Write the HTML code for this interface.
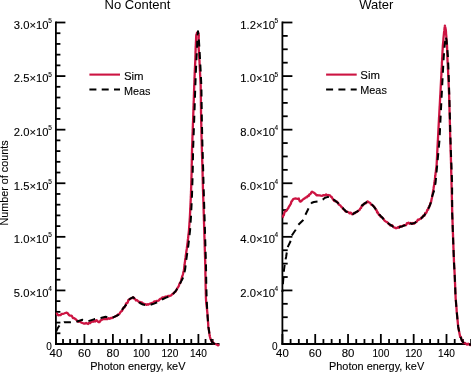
<!DOCTYPE html>
<html><head><meta charset="utf-8"><style>
html,body{margin:0;padding:0;background:#fff;}
body{width:471px;height:372px;overflow:hidden;}
svg{display:block;will-change:transform;}
text{font-family:"Liberation Sans", sans-serif;fill:#000;}
.s{stroke:#000;stroke-width:0.1px;}
</style></head><body>
<svg width="471" height="372" viewBox="0 0 471 372">
<rect width="471" height="372" fill="#fff"/>
<g stroke="#000" stroke-width="1.8" fill="none" stroke-linecap="butt">
<line x1="55.9" y1="21.6" x2="55.9" y2="344.9" />
<line x1="55.0" y1="344.0" x2="219.5" y2="344.0" />
<line x1="55.90" y1="344.0" x2="55.90" y2="334.0" />
<line x1="63.02" y1="344.0" x2="63.02" y2="339.0" />
<line x1="70.15" y1="344.0" x2="70.15" y2="339.0" />
<line x1="77.28" y1="344.0" x2="77.28" y2="339.0" />
<line x1="84.40" y1="344.0" x2="84.40" y2="334.0" />
<line x1="91.53" y1="344.0" x2="91.53" y2="339.0" />
<line x1="98.65" y1="344.0" x2="98.65" y2="339.0" />
<line x1="105.78" y1="344.0" x2="105.78" y2="339.0" />
<line x1="112.90" y1="344.0" x2="112.90" y2="334.0" />
<line x1="120.03" y1="344.0" x2="120.03" y2="339.0" />
<line x1="127.15" y1="344.0" x2="127.15" y2="339.0" />
<line x1="134.28" y1="344.0" x2="134.28" y2="339.0" />
<line x1="141.40" y1="344.0" x2="141.40" y2="334.0" />
<line x1="148.53" y1="344.0" x2="148.53" y2="339.0" />
<line x1="155.65" y1="344.0" x2="155.65" y2="339.0" />
<line x1="162.78" y1="344.0" x2="162.78" y2="339.0" />
<line x1="169.90" y1="344.0" x2="169.90" y2="334.0" />
<line x1="177.03" y1="344.0" x2="177.03" y2="339.0" />
<line x1="184.15" y1="344.0" x2="184.15" y2="339.0" />
<line x1="191.28" y1="344.0" x2="191.28" y2="339.0" />
<line x1="198.40" y1="344.0" x2="198.40" y2="334.0" />
<line x1="205.53" y1="344.0" x2="205.53" y2="339.0" />
<line x1="212.65" y1="344.0" x2="212.65" y2="339.0" />
<line x1="55.9" y1="344.00" x2="65.4" y2="344.00" />
<line x1="55.9" y1="333.28" x2="60.4" y2="333.28" />
<line x1="55.9" y1="322.57" x2="60.4" y2="322.57" />
<line x1="55.9" y1="311.85" x2="60.4" y2="311.85" />
<line x1="55.9" y1="301.13" x2="60.4" y2="301.13" />
<line x1="55.9" y1="290.42" x2="65.4" y2="290.42" />
<line x1="55.9" y1="279.70" x2="60.4" y2="279.70" />
<line x1="55.9" y1="268.98" x2="60.4" y2="268.98" />
<line x1="55.9" y1="258.27" x2="60.4" y2="258.27" />
<line x1="55.9" y1="247.55" x2="60.4" y2="247.55" />
<line x1="55.9" y1="236.83" x2="65.4" y2="236.83" />
<line x1="55.9" y1="226.12" x2="60.4" y2="226.12" />
<line x1="55.9" y1="215.40" x2="60.4" y2="215.40" />
<line x1="55.9" y1="204.68" x2="60.4" y2="204.68" />
<line x1="55.9" y1="193.97" x2="60.4" y2="193.97" />
<line x1="55.9" y1="183.25" x2="65.4" y2="183.25" />
<line x1="55.9" y1="172.53" x2="60.4" y2="172.53" />
<line x1="55.9" y1="161.82" x2="60.4" y2="161.82" />
<line x1="55.9" y1="151.10" x2="60.4" y2="151.10" />
<line x1="55.9" y1="140.38" x2="60.4" y2="140.38" />
<line x1="55.9" y1="129.67" x2="65.4" y2="129.67" />
<line x1="55.9" y1="118.95" x2="60.4" y2="118.95" />
<line x1="55.9" y1="108.23" x2="60.4" y2="108.23" />
<line x1="55.9" y1="97.52" x2="60.4" y2="97.52" />
<line x1="55.9" y1="86.80" x2="60.4" y2="86.80" />
<line x1="55.9" y1="76.08" x2="65.4" y2="76.08" />
<line x1="55.9" y1="65.37" x2="60.4" y2="65.37" />
<line x1="55.9" y1="54.65" x2="60.4" y2="54.65" />
<line x1="55.9" y1="43.93" x2="60.4" y2="43.93" />
<line x1="55.9" y1="33.22" x2="60.4" y2="33.22" />
<line x1="55.9" y1="22.50" x2="65.4" y2="22.50" />
<line x1="282.4" y1="21.6" x2="282.4" y2="344.9" />
<line x1="281.5" y1="344.0" x2="471.5" y2="344.0" />
<line x1="282.40" y1="344.0" x2="282.40" y2="334.0" />
<line x1="290.60" y1="344.0" x2="290.60" y2="339.0" />
<line x1="298.81" y1="344.0" x2="298.81" y2="339.0" />
<line x1="307.01" y1="344.0" x2="307.01" y2="339.0" />
<line x1="315.22" y1="344.0" x2="315.22" y2="334.0" />
<line x1="323.42" y1="344.0" x2="323.42" y2="339.0" />
<line x1="331.63" y1="344.0" x2="331.63" y2="339.0" />
<line x1="339.83" y1="344.0" x2="339.83" y2="339.0" />
<line x1="348.04" y1="344.0" x2="348.04" y2="334.0" />
<line x1="356.25" y1="344.0" x2="356.25" y2="339.0" />
<line x1="364.45" y1="344.0" x2="364.45" y2="339.0" />
<line x1="372.65" y1="344.0" x2="372.65" y2="339.0" />
<line x1="380.86" y1="344.0" x2="380.86" y2="334.0" />
<line x1="389.06" y1="344.0" x2="389.06" y2="339.0" />
<line x1="397.27" y1="344.0" x2="397.27" y2="339.0" />
<line x1="405.47" y1="344.0" x2="405.47" y2="339.0" />
<line x1="413.68" y1="344.0" x2="413.68" y2="334.0" />
<line x1="421.88" y1="344.0" x2="421.88" y2="339.0" />
<line x1="430.09" y1="344.0" x2="430.09" y2="339.0" />
<line x1="438.29" y1="344.0" x2="438.29" y2="339.0" />
<line x1="446.50" y1="344.0" x2="446.50" y2="334.0" />
<line x1="454.70" y1="344.0" x2="454.70" y2="339.0" />
<line x1="462.91" y1="344.0" x2="462.91" y2="339.0" />
<line x1="471.12" y1="344.0" x2="471.12" y2="339.0" />
<line x1="282.4" y1="344.00" x2="292.4" y2="344.00" />
<line x1="282.4" y1="330.60" x2="287.7" y2="330.60" />
<line x1="282.4" y1="317.21" x2="287.7" y2="317.21" />
<line x1="282.4" y1="303.81" x2="287.7" y2="303.81" />
<line x1="282.4" y1="290.42" x2="292.4" y2="290.42" />
<line x1="282.4" y1="277.02" x2="287.7" y2="277.02" />
<line x1="282.4" y1="263.62" x2="287.7" y2="263.62" />
<line x1="282.4" y1="250.23" x2="287.7" y2="250.23" />
<line x1="282.4" y1="236.83" x2="292.4" y2="236.83" />
<line x1="282.4" y1="223.44" x2="287.7" y2="223.44" />
<line x1="282.4" y1="210.04" x2="287.7" y2="210.04" />
<line x1="282.4" y1="196.65" x2="287.7" y2="196.65" />
<line x1="282.4" y1="183.25" x2="292.4" y2="183.25" />
<line x1="282.4" y1="169.85" x2="287.7" y2="169.85" />
<line x1="282.4" y1="156.46" x2="287.7" y2="156.46" />
<line x1="282.4" y1="143.06" x2="287.7" y2="143.06" />
<line x1="282.4" y1="129.67" x2="292.4" y2="129.67" />
<line x1="282.4" y1="116.27" x2="287.7" y2="116.27" />
<line x1="282.4" y1="102.88" x2="287.7" y2="102.88" />
<line x1="282.4" y1="89.48" x2="287.7" y2="89.48" />
<line x1="282.4" y1="76.08" x2="292.4" y2="76.08" />
<line x1="282.4" y1="62.69" x2="287.7" y2="62.69" />
<line x1="282.4" y1="49.29" x2="287.7" y2="49.29" />
<line x1="282.4" y1="35.90" x2="287.7" y2="35.90" />
<line x1="282.4" y1="22.50" x2="292.4" y2="22.50" />
</g>
<polyline points="55.9,313.9 57.0,313.6 58.2,315.3 59.3,315.1 60.5,315.2 61.7,313.9 62.9,313.9 64.1,313.5 65.3,313.0 66.5,312.7 67.5,313.0 68.4,314.2 69.2,315.3 70.1,315.7 71.0,315.6 71.9,316.1 72.9,318.1 73.8,318.1 75.0,318.8 76.0,319.5 77.0,320.5 78.0,321.6 79.0,321.8 80.0,321.3 81.1,322.5 82.1,322.8 83.1,323.2 84.1,323.7 85.1,323.5 86.1,323.0 87.1,323.5 88.1,324.0 89.1,322.8 90.1,323.2 91.1,322.1 92.2,321.1 93.2,321.8 94.2,320.8 95.2,321.5 96.5,320.1 97.5,321.2 98.5,322.1 99.5,322.1 100.6,320.5 101.5,319.8 102.4,319.6 103.6,318.9 104.8,319.2 106.0,319.1 107.3,319.2 108.5,318.2 109.7,318.8 110.9,317.9 112.1,318.0 113.3,317.3 114.5,316.8 115.7,316.2 116.9,315.6 118.2,314.3 119.4,314.0 120.2,312.5 121.0,311.6 121.8,311.1 122.4,310.1 123.0,308.9 123.6,307.5 124.2,307.5 124.7,307.2 125.2,305.8 125.6,305.1 126.1,303.4 126.6,303.1 127.2,303.2 127.8,302.1 128.4,299.9 129.0,299.8 130.2,298.7 131.3,298.2 132.2,298.1 133.2,297.2 134.1,298.5 135.1,299.1 136.0,300.5 137.0,300.2 137.9,301.0 138.9,302.0 140.0,301.8 140.9,302.6 141.8,302.4 142.7,303.2 144.1,303.9 145.4,304.2 146.4,304.9 147.4,304.2 148.4,304.6 149.4,303.8 150.4,303.5 151.4,303.2 152.4,303.0 153.4,302.5 154.4,301.3 155.5,301.8 156.5,300.8 157.5,300.8 158.5,300.7 159.5,299.5 160.5,298.8 161.5,298.4 162.5,297.3 163.5,297.4 164.6,297.1 165.6,296.6 167.0,296.6 168.4,295.9 169.7,296.0 171.0,295.5 171.9,294.5 172.7,293.9 173.6,293.3 174.5,292.3 175.3,291.8 176.2,290.3 176.9,289.2 177.6,287.8 178.3,286.9 178.9,285.8 179.4,283.9 179.9,282.9 180.5,282.6 180.8,281.5 181.1,280.5 181.4,279.4 181.7,278.3 182.0,277.2 182.3,276.1 182.7,275.1 183.0,274.0 183.2,273.0 183.4,272.0 183.7,271.0 183.9,270.0 184.1,269.0 184.2,267.9 184.3,266.9 184.4,265.9 184.6,264.8 184.7,263.8 184.8,262.7 185.0,261.6 185.1,260.6 185.2,259.5 185.4,258.4 185.6,257.4 185.7,256.3 185.8,255.3 186.0,254.2 186.2,253.1 186.3,252.1 186.4,251.1 186.6,250.0 186.8,248.9 186.9,247.9 187.0,246.9 187.2,245.8 187.3,244.7 187.4,243.7 187.6,242.6 187.7,241.6 187.8,240.5 187.9,239.4 188.1,238.4 188.2,237.3 188.3,236.3 188.4,235.2 188.5,234.2 188.7,233.1 188.8,232.1 188.9,231.0 189.0,230.0 189.1,228.9 189.1,227.9 189.2,226.8 189.3,225.7 189.4,224.6 189.4,223.6 189.5,222.5 189.6,221.4 189.7,220.3 189.7,219.3 189.8,218.2 189.9,217.2 189.9,216.1 190.0,215.1 190.0,214.1 190.1,213.0 190.1,212.0 190.2,211.0 190.2,209.9 190.2,208.9 190.3,207.9 190.4,206.8 190.4,205.8 190.5,204.8 190.5,203.8 190.6,202.7 190.6,201.7 190.7,200.7 190.7,199.6 190.8,198.6 190.8,197.6 190.8,196.5 190.9,195.5 190.9,194.5 191.0,193.4 191.0,192.4 191.0,191.4 191.1,190.3 191.1,189.3 191.1,188.2 191.2,187.2 191.2,186.2 191.2,185.1 191.2,184.1 191.3,183.1 191.3,182.0 191.3,181.0 191.4,180.0 191.4,178.9 191.4,177.9 191.5,176.8 191.5,175.8 191.5,174.8 191.6,173.7 191.6,172.7 191.6,171.7 191.6,170.6 191.7,169.6 191.7,168.6 191.7,167.5 191.7,166.5 191.7,165.5 191.7,164.4 191.8,163.4 191.8,162.4 191.8,161.3 191.8,160.3 191.8,159.3 191.9,158.3 191.9,157.2 191.9,156.2 191.9,155.2 191.9,154.1 191.9,153.1 192.0,152.1 192.0,151.0 192.0,150.0 192.0,149.0 192.1,148.0 192.1,147.0 192.1,146.0 192.2,145.0 192.2,144.0 192.3,143.0 192.3,142.0 192.3,141.0 192.4,140.0 192.4,139.0 192.4,138.0 192.5,137.0 192.5,136.0 192.5,135.0 192.6,134.0 192.6,132.9 192.7,131.9 192.7,130.9 192.7,129.9 192.8,128.9 192.8,127.9 192.8,126.9 192.9,125.9 192.9,124.9 192.9,123.9 193.0,122.9 193.0,121.9 193.1,120.9 193.1,119.9 193.1,118.9 193.2,117.9 193.2,116.9 193.2,115.9 193.3,114.8 193.3,113.8 193.3,112.8 193.4,111.7 193.4,110.7 193.4,109.7 193.5,108.6 193.5,107.6 193.5,106.6 193.6,105.5 193.6,104.5 193.6,103.5 193.7,102.4 193.7,101.4 193.8,100.3 193.8,99.3 193.8,98.3 193.9,97.2 193.9,96.2 193.9,95.2 194.0,94.1 194.0,93.1 194.0,92.1 194.1,91.0 194.1,90.0 194.1,89.0 194.2,88.0 194.2,86.9 194.2,85.9 194.3,84.9 194.3,83.8 194.4,82.8 194.4,81.8 194.4,80.8 194.5,79.8 194.5,78.7 194.5,77.7 194.6,76.7 194.6,75.6 194.7,74.6 194.7,73.6 194.7,72.6 194.8,71.5 194.8,70.5 194.9,69.5 194.9,68.4 195.0,67.4 195.0,66.4 195.1,65.4 195.1,64.3 195.2,63.3 195.2,62.3 195.3,61.2 195.3,60.2 195.3,59.2 195.4,58.1 195.4,57.1 195.4,56.0 195.5,55.0 195.5,54.0 195.5,52.9 195.5,51.9 195.6,50.9 195.6,49.8 195.6,48.8 195.7,47.7 195.7,46.7 195.8,45.6 195.8,44.6 195.9,43.5 195.9,42.4 196.0,41.4 196.0,40.3 196.1,39.3 196.1,38.2 196.2,37.1 196.2,36.1 196.3,35.0 196.7,33.9 197.0,32.7 198.2,32.7 198.5,33.9 198.8,35.0 198.8,36.0 198.7,37.0 198.7,38.1 198.7,39.1 198.7,40.1 198.6,41.1 198.6,42.1 198.6,43.2 198.5,44.2 198.5,45.2 198.6,46.2 198.6,47.2 198.7,48.2 198.7,49.2 198.8,50.2 198.9,51.2 198.9,52.2 199.0,53.2 199.0,54.2 199.1,55.2 199.2,56.2 199.2,57.2 199.3,58.2 199.3,59.2 199.4,60.2 199.5,61.2 199.5,62.3 199.6,63.3 199.6,64.3 199.7,65.4 199.7,66.4 199.8,67.4 199.8,68.4 199.9,69.5 199.9,70.5 200.0,71.5 200.0,72.6 200.1,73.6 200.1,74.6 200.2,75.7 200.2,76.7 200.3,77.7 200.3,78.8 200.4,79.8 200.4,80.8 200.5,81.8 200.5,82.9 200.6,83.9 200.6,84.9 200.7,86.0 200.7,87.0 200.7,88.0 200.7,89.1 200.7,90.1 200.8,91.1 200.8,92.2 200.8,93.2 200.8,94.2 200.8,95.2 200.8,96.3 200.8,97.3 200.9,98.3 200.9,99.4 200.9,100.4 200.9,101.4 200.9,102.5 200.9,103.5 200.9,104.5 200.9,105.6 201.0,106.6 201.0,107.6 201.0,108.7 201.0,109.7 201.0,110.7 201.0,111.7 201.0,112.8 201.1,113.8 201.1,114.8 201.1,115.9 201.1,116.9 201.1,117.9 201.1,119.0 201.2,120.0 201.2,121.0 201.2,122.1 201.2,123.1 201.3,124.1 201.3,125.2 201.3,126.2 201.3,127.2 201.4,128.3 201.4,129.3 201.4,130.4 201.4,131.4 201.4,132.4 201.5,133.5 201.5,134.5 201.5,135.5 201.5,136.6 201.6,137.6 201.6,138.6 201.6,139.7 201.6,140.7 201.7,141.7 201.7,142.8 201.7,143.8 201.7,144.8 201.8,145.9 201.8,146.9 201.8,147.9 201.9,149.0 201.9,150.0 201.9,151.0 201.9,152.0 202.0,153.1 202.0,154.1 202.0,155.1 202.1,156.2 202.1,157.2 202.1,158.2 202.2,159.3 202.2,160.3 202.2,161.3 202.3,162.4 202.3,163.4 202.3,164.4 202.3,165.4 202.4,166.5 202.4,167.5 202.4,168.5 202.5,169.6 202.5,170.6 202.5,171.6 202.6,172.6 202.6,173.7 202.6,174.7 202.6,175.7 202.7,176.7 202.7,177.7 202.7,178.8 202.7,179.8 202.8,180.8 202.8,181.8 202.8,182.9 202.8,183.9 202.9,184.9 202.9,185.9 202.9,186.9 202.9,188.0 203.0,189.0 203.0,190.0 203.0,191.0 203.1,192.1 203.1,193.1 203.1,194.2 203.2,195.2 203.2,196.3 203.2,197.3 203.3,198.3 203.3,199.4 203.3,200.4 203.4,201.5 203.4,202.5 203.4,203.6 203.5,204.6 203.5,205.6 203.5,206.7 203.6,207.7 203.6,208.8 203.6,209.8 203.7,210.9 203.7,211.9 203.7,212.9 203.8,214.0 203.8,215.0 203.8,216.0 203.9,217.1 203.9,218.1 203.9,219.1 203.9,220.2 204.0,221.2 204.0,222.2 204.0,223.3 204.1,224.3 204.1,225.4 204.1,226.4 204.2,227.4 204.2,228.5 204.2,229.5 204.3,230.5 204.3,231.6 204.3,232.6 204.3,233.6 204.4,234.7 204.4,235.7 204.4,236.7 204.5,237.8 204.5,238.8 204.5,239.8 204.6,240.8 204.6,241.8 204.6,242.8 204.6,243.8 204.7,244.8 204.7,245.8 204.7,246.8 204.8,247.8 204.8,248.8 204.8,249.8 204.9,250.8 204.9,251.8 204.9,252.8 204.9,253.8 205.0,254.8 205.0,255.8 205.0,256.8 205.1,257.8 205.1,258.8 205.1,259.8 205.2,260.8 205.2,261.8 205.2,262.8 205.2,263.8 205.3,264.8 205.3,265.8 205.3,266.8 205.3,267.8 205.3,268.8 205.4,269.8 205.4,270.9 205.4,271.9 205.4,272.9 205.4,273.9 205.4,274.9 205.5,275.9 205.5,276.9 205.5,277.9 205.5,278.9 205.5,279.9 205.5,281.0 205.6,282.0 205.6,283.0 205.6,284.0 205.6,285.0 205.6,286.0 205.7,287.0 205.7,288.0 205.7,289.0 205.7,290.0 205.8,291.0 205.8,292.0 205.8,293.0 205.8,294.0 205.9,295.0 205.9,296.0 205.9,297.0 205.9,298.0 206.0,299.0 206.0,300.0 206.1,301.0 206.2,302.1 206.3,303.1 206.4,304.1 206.5,305.2 206.6,306.2 206.8,307.2 206.9,308.2 207.0,309.3 207.1,310.3 207.2,311.3 207.3,312.4 207.4,313.4 207.5,314.4 207.6,315.5 207.6,316.5 207.7,317.6 207.8,318.6 207.9,319.6 207.9,320.7 208.0,321.7 208.1,322.7 208.2,323.8 208.2,324.8 208.3,325.9 208.4,326.9 208.6,327.9 208.7,329.0 208.9,330.0 209.0,331.1 209.2,332.1 209.3,333.2 209.5,334.2 209.6,335.3 209.8,336.3 210.2,337.7 210.6,339.3 211.0,339.7 211.4,340.4 211.8,341.7 212.8,342.0 213.8,343.5 215.2,344.0 216.5,344.4 217.9,345.4 219.3,344.6" fill="none" stroke="#cc1442" stroke-width="2.3" stroke-linejoin="round"/>
<polyline points="55.9,332.0 57.5,328.5 59.6,325.2 62.0,323.2 64.3,322.2 70.8,322.2 76.3,321.8 82.4,319.8 85.0,320.5 88.4,321.1 94.5,319.1 100.8,318.0 105.6,316.8 109.0,317.6 112.1,318.0 118.5,314.8 121.8,309.9 126.6,304.3 129.0,299.5 131.3,298.2 133.2,297.2 135.1,299.1 137.5,301.3 140.0,303.0 143.0,304.6 146.0,305.2 150.0,304.9 154.0,303.6 158.0,301.9 162.0,299.5 166.0,297.6 169.0,296.6 171.5,295.8 173.6,293.3 176.2,290.3 178.3,286.9 180.5,282.6 182.8,278.3 184.1,274.0 185.2,269.0 185.9,262.7 187.1,254.2 188.3,245.8 189.3,237.3 190.1,230.0 190.9,218.2 192.0,195.5 192.7,172.7 193.1,150.0 194.3,116.9 195.2,90.0 195.8,73.6 196.4,60.2 197.1,46.7 197.4,36.0 198.0,31.2 198.6,36.0 199.3,46.0 200.1,60.2 200.8,73.6 201.4,87.0 201.8,116.9 202.4,143.8 203.2,170.6 203.7,190.0 204.4,211.9 205.2,238.8 206.0,265.8 206.3,285.0 206.7,300.0 207.4,313.4 208.4,326.9 209.8,336.3 211.8,341.7 213.8,343.5 216.5,344.4 219.3,344.6" fill="none" stroke="#000" stroke-width="2" stroke-dasharray="7 5.5" stroke-dashoffset="12.0" stroke-linejoin="round"/>
<polyline points="282.4,217.5 282.8,217.3 283.2,215.4 283.8,215.2 284.4,212.6 284.9,211.6 285.5,211.3 286.3,211.0 287.0,209.9 287.8,208.6 288.4,208.0 289.0,206.4 289.5,206.0 290.1,204.9 290.6,204.2 291.0,203.2 291.4,201.6 291.9,201.3 292.6,200.0 293.3,199.0 294.6,198.6 296.0,198.5 297.4,198.9 298.8,198.5 299.4,200.5 300.0,201.4 300.6,201.7 301.5,200.9 302.4,199.9 304.0,198.8 304.9,198.2 305.8,197.4 306.7,197.4 307.7,195.9 308.7,196.1 309.4,194.3 310.1,194.2 310.8,193.4 311.5,192.2 312.1,191.7 313.4,192.4 314.4,193.0 315.5,194.1 316.5,195.3 317.5,195.1 318.5,195.3 319.5,195.4 320.9,195.7 322.2,195.8 323.5,195.1 324.9,195.4 326.1,194.5 327.4,195.3 328.6,195.0 329.8,195.3 331.0,196.9 331.7,197.0 332.4,198.5 333.1,199.3 334.3,201.0 335.5,200.9 336.3,201.9 337.1,201.7 337.9,202.9 338.7,204.4 339.5,205.0 340.3,205.3 341.3,206.8 342.3,207.4 343.0,208.9 343.7,209.5 344.4,209.8 345.4,211.3 346.4,211.8 347.4,211.7 348.4,212.2 349.6,213.3 350.8,212.6 351.8,214.2 352.8,214.2 353.9,212.9 354.9,213.3 356.0,212.1 357.1,211.8 358.3,210.7 359.4,210.1 359.9,209.2 360.5,208.2 361.0,208.0 361.6,206.3 362.1,205.4 363.0,205.3 363.9,203.8 364.8,203.4 365.7,203.4 366.5,202.8 367.4,201.4 368.3,201.8 369.2,202.5 370.1,202.8 371.0,204.4 371.9,204.9 372.8,205.4 373.5,206.2 374.1,206.6 374.8,207.6 375.5,208.8 376.0,210.1 376.6,210.1 377.1,212.4 377.7,212.1 378.2,213.5 379.0,215.0 379.8,214.8 380.6,216.7 381.4,217.1 382.2,217.5 382.9,218.3 383.6,219.1 384.2,220.2 384.9,220.9 385.6,221.5 386.5,221.8 387.3,222.2 388.1,223.3 389.0,223.9 390.0,225.4 391.1,225.5 392.1,225.2 393.1,226.6 394.1,227.5 395.1,227.7 396.1,228.3 397.1,227.9 398.1,227.0 399.1,227.7 400.1,226.1 401.1,226.6 402.1,226.5 403.1,225.5 404.2,225.1 405.2,225.2 406.0,225.2 406.9,223.2 407.7,223.3 408.5,222.6 409.6,223.7 410.8,223.0 411.9,223.9 413.0,222.9 414.1,223.7 415.2,222.6 416.1,221.8 416.9,221.6 417.8,219.7 418.6,219.9 419.8,219.0 420.9,218.6 421.6,217.3 422.4,217.5 423.1,215.7 423.8,215.8 424.5,215.6 425.2,213.0 426.0,213.3 426.7,211.9 427.2,210.1 427.7,209.5 428.1,209.6 428.6,207.4 429.1,207.1 429.5,205.6 429.9,205.6 430.2,204.1 430.6,202.5 431.0,202.4 431.2,201.3 431.4,200.2 431.6,199.1 431.9,198.0 432.1,196.9 432.3,195.8 432.5,194.6 432.7,193.5 432.9,192.3 433.1,191.2 433.3,190.0 433.5,188.9 433.6,187.9 433.8,186.8 434.0,185.7 434.2,184.6 434.3,183.6 434.5,182.5 434.6,181.5 434.7,180.4 434.9,179.4 435.0,178.4 435.1,177.4 435.2,176.3 435.4,175.3 435.5,174.3 435.6,173.2 435.7,172.2 435.9,171.2 436.0,170.1 436.1,169.1 436.2,168.1 436.4,167.1 436.5,166.0 436.6,165.0 436.7,164.0 436.7,163.0 436.8,162.0 436.8,161.0 436.9,160.0 436.9,159.0 437.0,158.0 437.0,157.0 437.1,156.0 437.1,155.0 437.2,154.0 437.2,153.0 437.3,152.0 437.3,151.0 437.4,150.0 437.4,149.0 437.5,148.0 437.5,147.0 437.6,146.0 437.6,145.0 437.7,144.0 437.7,143.0 437.8,142.0 437.8,141.0 437.9,140.0 438.0,139.0 438.0,138.0 438.1,137.0 438.1,136.0 438.2,135.0 438.2,134.0 438.3,133.0 438.3,132.0 438.4,131.0 438.4,130.0 438.5,129.0 438.5,128.0 438.6,127.0 438.6,126.0 438.7,125.0 438.7,124.0 438.8,123.0 438.8,122.0 438.9,121.0 438.9,120.0 439.0,119.0 439.0,118.0 439.1,117.0 439.2,116.0 439.2,115.0 439.3,114.0 439.3,113.0 439.4,112.0 439.4,111.0 439.5,110.0 439.5,109.0 439.6,108.0 439.6,107.0 439.7,106.0 439.8,105.0 439.8,104.0 439.9,103.0 439.9,102.0 440.0,101.0 440.0,100.0 440.1,99.0 440.1,98.0 440.2,97.0 440.2,96.0 440.3,95.0 440.4,94.0 440.4,93.0 440.5,92.0 440.5,91.0 440.6,90.0 440.6,89.0 440.7,88.0 440.7,87.0 440.8,86.0 440.8,85.0 440.9,84.0 440.9,83.0 441.0,82.0 441.0,81.0 441.1,80.0 441.1,79.0 441.2,78.0 441.2,77.0 441.3,76.0 441.4,75.0 441.4,73.9 441.4,72.9 441.5,71.9 441.6,70.9 441.6,69.8 441.6,68.8 441.7,67.8 441.8,66.8 441.8,65.7 441.9,64.7 441.9,63.7 441.9,62.6 442.0,61.6 442.1,60.6 442.1,59.6 442.1,58.5 442.2,57.5 442.3,56.5 442.3,55.4 442.4,54.4 442.4,53.3 442.5,52.3 442.5,51.2 442.6,50.2 442.7,49.2 442.7,48.1 442.8,47.1 442.8,46.0 442.9,45.0 443.0,44.0 443.1,43.0 443.2,42.0 443.3,41.0 443.4,40.0 443.4,39.0 443.5,38.0 443.6,37.0 443.7,36.0 443.8,35.0 443.9,34.0 444.0,33.0 444.1,31.9 444.3,30.9 444.4,29.8 444.5,28.8 444.6,27.7 444.8,26.7 444.9,25.6 445.1,26.7 445.4,27.8 445.6,28.9 445.8,30.0 445.9,31.0 446.0,32.0 446.0,33.0 446.1,34.0 446.2,35.0 446.3,36.0 446.4,37.0 446.4,38.0 446.5,39.0 446.6,40.0 446.7,41.0 446.8,42.0 446.8,43.0 446.9,44.0 447.0,45.0 447.0,46.0 447.1,47.1 447.1,48.1 447.1,49.2 447.2,50.2 447.2,51.2 447.2,52.3 447.3,53.3 447.3,54.4 447.3,55.4 447.4,56.5 447.4,57.5 447.4,58.5 447.5,59.6 447.5,60.6 447.6,61.6 447.6,62.6 447.7,63.7 447.8,64.7 447.8,65.7 447.9,66.8 447.9,67.8 447.9,68.8 448.0,69.8 448.1,70.9 448.1,71.9 448.1,72.9 448.2,73.9 448.2,75.0 448.3,76.0 448.3,77.0 448.4,78.0 448.4,79.0 448.5,80.0 448.5,81.0 448.6,82.0 448.6,83.0 448.6,84.0 448.7,85.0 448.7,86.0 448.8,87.0 448.8,88.0 448.8,89.0 448.9,90.0 448.9,91.0 449.0,92.0 449.0,93.0 449.1,94.0 449.1,95.0 449.1,96.0 449.2,97.0 449.2,98.0 449.2,99.0 449.2,100.0 449.3,101.0 449.3,102.0 449.3,103.0 449.3,104.0 449.4,105.0 449.4,106.0 449.4,107.0 449.5,108.0 449.5,109.0 449.5,110.0 449.5,111.0 449.6,112.0 449.6,113.0 449.6,114.0 449.6,115.0 449.7,116.0 449.7,117.0 449.7,118.0 449.8,119.0 449.8,120.0 449.8,121.0 449.8,122.0 449.9,123.0 449.9,124.0 449.9,125.0 449.9,126.0 450.0,127.0 450.0,128.0 450.0,129.0 450.0,130.0 450.1,131.0 450.1,132.0 450.1,133.0 450.1,134.0 450.2,135.0 450.2,136.0 450.2,137.0 450.2,138.0 450.3,139.0 450.3,140.0 450.3,141.0 450.4,142.0 450.4,143.0 450.4,144.0 450.5,145.0 450.5,146.0 450.5,147.0 450.6,148.0 450.6,149.0 450.6,150.0 450.6,151.0 450.7,152.0 450.7,153.0 450.7,154.0 450.8,155.0 450.8,156.0 450.8,157.0 450.9,158.0 450.9,159.0 450.9,160.0 451.0,161.0 451.0,162.0 451.0,163.0 451.1,164.1 451.1,165.1 451.1,166.1 451.1,167.1 451.1,168.2 451.2,169.2 451.2,170.2 451.2,171.2 451.2,172.2 451.3,173.3 451.3,174.3 451.3,175.3 451.4,176.3 451.4,177.4 451.4,178.4 451.4,179.4 451.4,180.4 451.5,181.5 451.5,182.5 451.5,183.5 451.5,184.5 451.6,185.5 451.6,186.5 451.6,187.5 451.6,188.5 451.7,189.5 451.7,190.6 451.7,191.6 451.7,192.6 451.8,193.6 451.8,194.6 451.8,195.6 451.8,196.6 451.9,197.6 451.9,198.6 451.9,199.6 451.9,200.6 451.9,201.6 452.0,202.6 452.0,203.6 452.0,204.6 452.0,205.7 452.1,206.7 452.1,207.7 452.1,208.7 452.1,209.7 452.2,210.7 452.2,211.7 452.2,212.7 452.2,213.7 452.3,214.8 452.3,215.8 452.3,216.8 452.4,217.8 452.4,218.9 452.5,219.9 452.5,220.9 452.5,222.0 452.6,223.0 452.6,224.0 452.6,225.0 452.7,226.1 452.7,227.1 452.7,228.1 452.8,229.1 452.8,230.2 452.8,231.2 452.9,232.2 452.9,233.3 453.0,234.3 453.0,235.3 453.0,236.3 453.1,237.4 453.1,238.4 453.1,239.4 453.2,240.4 453.2,241.4 453.2,242.4 453.3,243.4 453.3,244.5 453.4,245.5 453.4,246.5 453.4,247.5 453.5,248.5 453.5,249.5 453.6,250.5 453.6,251.5 453.6,252.5 453.7,253.5 453.7,254.5 453.7,255.5 453.8,256.6 453.8,257.6 453.9,258.6 453.9,259.6 453.9,260.6 454.0,261.6 454.0,262.6 454.1,263.6 454.1,264.7 454.2,265.7 454.2,266.7 454.3,267.8 454.4,268.8 454.4,269.8 454.5,270.9 454.5,271.9 454.6,272.9 454.6,274.0 454.7,275.0 454.7,276.0 454.8,277.0 454.8,278.0 454.9,279.0 454.9,280.1 454.9,281.1 455.0,282.1 455.0,283.1 455.1,284.1 455.1,285.1 455.1,286.1 455.2,287.1 455.2,288.1 455.3,289.1 455.3,290.1 455.3,291.2 455.4,292.2 455.4,293.2 455.5,294.2 455.5,295.2 455.6,296.4 455.6,297.6 455.7,298.8 455.8,300.0 455.9,301.0 456.0,302.1 456.1,303.1 456.1,304.1 456.2,305.2 456.3,306.2 456.4,307.2 456.5,308.2 456.6,309.3 456.6,310.3 456.7,311.3 456.8,312.4 456.9,313.4 457.0,314.4 457.1,315.5 457.2,316.5 457.3,317.6 457.4,318.6 457.5,319.6 457.6,320.7 457.7,321.7 457.8,322.7 457.9,323.8 458.0,324.8 458.1,325.9 458.2,326.9 458.4,327.9 458.6,328.9 458.8,329.9 459.0,330.9 459.2,332.0 459.4,333.0 459.6,334.0 459.8,335.0 460.2,336.9 460.6,336.5 461.0,337.3 461.4,339.0 461.8,340.3 462.5,341.5 463.2,342.7 463.9,343.2 464.9,342.9 466.0,343.8 467.0,344.5 468.1,343.7 469.2,344.5 470.4,345.1 471.5,344.7" fill="none" stroke="#cc1442" stroke-width="2.3" stroke-linejoin="round"/>
<polyline points="282.4,292.0 283.0,283.0 284.0,270.0 285.0,262.0 286.1,257.0 287.5,247.5 290.3,241.8 291.3,236.2 295.5,230.0 298.3,224.9 303.0,220.2 305.8,214.0 308.0,209.5 310.0,205.0 311.8,202.8 314.0,202.0 317.8,201.5 322.9,199.5 325.0,197.7 328.2,196.9 331.0,196.9 333.1,199.3 335.5,200.9 337.9,202.9 340.3,205.3 342.3,207.4 344.4,209.8 346.4,211.8 348.4,212.2 350.8,212.6 352.8,214.2 356.0,212.1 359.4,210.1 362.1,205.4 364.8,203.4 367.4,201.4 370.1,202.8 372.8,205.4 375.5,208.8 378.2,213.5 382.2,217.5 385.6,221.5 389.0,223.9 393.1,226.6 397.1,227.9 401.1,226.6 405.2,225.2 408.5,222.6 411.9,223.9 415.2,222.6 418.6,219.9 420.9,218.6 423.8,215.8 426.7,211.9 429.1,207.1 431.0,202.4 432.3,195.8 434.3,190.0 435.6,182.5 437.2,165.0 439.5,140.0 440.6,117.0 441.7,95.0 442.7,76.0 443.7,57.5 444.7,45.0 445.4,39.0 445.8,36.5 446.5,40.0 448.0,57.5 448.7,76.0 449.3,95.0 449.9,117.0 450.5,140.0 451.3,162.0 452.1,182.5 452.2,212.7 453.1,238.4 454.0,262.6 454.7,275.0 455.5,295.2 455.8,300.0 456.9,313.4 458.2,326.9 459.8,335.0 461.8,340.3 463.9,343.2 467.0,344.5 471.5,344.7" fill="none" stroke="#000" stroke-width="2" stroke-dasharray="7 5.5" stroke-dashoffset="4.7" stroke-linejoin="round"/>
<line x1="89.4" y1="74.6" x2="120.0" y2="74.6" stroke="#cc1442" stroke-width="2.1"/>
<line x1="89.4" y1="89.5" x2="120.0" y2="89.5" stroke="#000" stroke-width="2" stroke-dasharray="7 5.3"/>
<line x1="326.1" y1="74.6" x2="356.70000000000005" y2="74.6" stroke="#cc1442" stroke-width="2.1"/>
<line x1="326.1" y1="89.5" x2="356.70000000000005" y2="89.5" stroke="#000" stroke-width="2" stroke-dasharray="7 5.3"/>
<text x="137.5" y="8.8" font-size="13" text-anchor="middle">No Content</text>
<text x="376.3" y="8.8" font-size="13" text-anchor="middle">Water</text>
<text class="s" x="124.0" y="79.8" font-size="10" text-anchor="start" textLength="19.6" lengthAdjust="spacingAndGlyphs">Sim</text>
<text class="s" x="124.0" y="94.5" font-size="10" text-anchor="start" textLength="26.5" lengthAdjust="spacingAndGlyphs">Meas</text>
<text class="s" x="360.3" y="79.4" font-size="10" text-anchor="start" textLength="19.6" lengthAdjust="spacingAndGlyphs">Sim</text>
<text class="s" x="360.3" y="94.1" font-size="10" text-anchor="start" textLength="26.5" lengthAdjust="spacingAndGlyphs">Meas</text>
<text class="s" x="55.9" y="357" font-size="10" text-anchor="middle" textLength="12.7" lengthAdjust="spacingAndGlyphs">40</text>
<text class="s" x="84.4" y="357" font-size="10" text-anchor="middle" textLength="12.7" lengthAdjust="spacingAndGlyphs">60</text>
<text class="s" x="112.9" y="357" font-size="10" text-anchor="middle" textLength="12.7" lengthAdjust="spacingAndGlyphs">80</text>
<text class="s" x="141.4" y="357" font-size="10" text-anchor="middle" textLength="16.9" lengthAdjust="spacingAndGlyphs">100</text>
<text class="s" x="169.9" y="357" font-size="10" text-anchor="middle" textLength="16.9" lengthAdjust="spacingAndGlyphs">120</text>
<text class="s" x="198.4" y="357" font-size="10" text-anchor="middle" textLength="16.9" lengthAdjust="spacingAndGlyphs">140</text>
<text class="s" x="282.4" y="357" font-size="10" text-anchor="middle" textLength="12.7" lengthAdjust="spacingAndGlyphs">40</text>
<text class="s" x="315.22" y="357" font-size="10" text-anchor="middle" textLength="12.7" lengthAdjust="spacingAndGlyphs">60</text>
<text class="s" x="348.04" y="357" font-size="10" text-anchor="middle" textLength="12.7" lengthAdjust="spacingAndGlyphs">80</text>
<text class="s" x="380.86" y="357" font-size="10" text-anchor="middle" textLength="16.9" lengthAdjust="spacingAndGlyphs">100</text>
<text class="s" x="413.68" y="357" font-size="10" text-anchor="middle" textLength="16.9" lengthAdjust="spacingAndGlyphs">120</text>
<text class="s" x="446.5" y="357" font-size="10" text-anchor="middle" textLength="16.9" lengthAdjust="spacingAndGlyphs">140</text>
<text class="s" x="90.3" y="369.5" font-size="10" text-anchor="start" textLength="95.2" lengthAdjust="spacingAndGlyphs">Photon energy, keV</text>
<text class="s" x="329.0" y="369.5" font-size="10" text-anchor="start" textLength="95.2" lengthAdjust="spacingAndGlyphs">Photon energy, keV</text>
<text class="s" x="51.7" y="349.8" font-size="10" text-anchor="end">0</text>
<text class="s" x="48.4" y="296.82" font-size="10" text-anchor="end" textLength="34.6" lengthAdjust="spacingAndGlyphs">5.0×10</text>
<text class="s" x="48.3" y="291.02" font-size="6.5" text-anchor="start">4</text>
<text class="s" x="48.4" y="243.23" font-size="10" text-anchor="end" textLength="34.6" lengthAdjust="spacingAndGlyphs">1.0×10</text>
<text class="s" x="48.3" y="237.43" font-size="6.5" text-anchor="start">5</text>
<text class="s" x="48.4" y="189.65" font-size="10" text-anchor="end" textLength="34.6" lengthAdjust="spacingAndGlyphs">1.5×10</text>
<text class="s" x="48.3" y="183.85" font-size="6.5" text-anchor="start">5</text>
<text class="s" x="48.4" y="136.07" font-size="10" text-anchor="end" textLength="34.6" lengthAdjust="spacingAndGlyphs">2.0×10</text>
<text class="s" x="48.3" y="130.27" font-size="6.5" text-anchor="start">5</text>
<text class="s" x="48.4" y="82.48" font-size="10" text-anchor="end" textLength="34.6" lengthAdjust="spacingAndGlyphs">2.5×10</text>
<text class="s" x="48.3" y="76.68" font-size="6.5" text-anchor="start">5</text>
<text class="s" x="48.4" y="28.9" font-size="10" text-anchor="end" textLength="34.6" lengthAdjust="spacingAndGlyphs">3.0×10</text>
<text class="s" x="48.3" y="23.1" font-size="6.5" text-anchor="start">5</text>
<text class="s" x="277.6" y="349.8" font-size="10" text-anchor="end">0</text>
<text class="s" x="274.9" y="296.82" font-size="10" text-anchor="end" textLength="34.6" lengthAdjust="spacingAndGlyphs">2.0×10</text>
<text class="s" x="274.6" y="291.02" font-size="6.5" text-anchor="start">4</text>
<text class="s" x="274.9" y="243.23" font-size="10" text-anchor="end" textLength="34.6" lengthAdjust="spacingAndGlyphs">4.0×10</text>
<text class="s" x="274.6" y="237.43" font-size="6.5" text-anchor="start">4</text>
<text class="s" x="274.9" y="189.65" font-size="10" text-anchor="end" textLength="34.6" lengthAdjust="spacingAndGlyphs">6.0×10</text>
<text class="s" x="274.6" y="183.85" font-size="6.5" text-anchor="start">4</text>
<text class="s" x="274.9" y="136.07" font-size="10" text-anchor="end" textLength="34.6" lengthAdjust="spacingAndGlyphs">8.0×10</text>
<text class="s" x="274.6" y="130.27" font-size="6.5" text-anchor="start">4</text>
<text class="s" x="274.9" y="82.48" font-size="10" text-anchor="end" textLength="34.6" lengthAdjust="spacingAndGlyphs">1.0×10</text>
<text class="s" x="274.6" y="76.68" font-size="6.5" text-anchor="start">5</text>
<text class="s" x="274.9" y="28.9" font-size="10" text-anchor="end" textLength="34.6" lengthAdjust="spacingAndGlyphs">1.2×10</text>
<text class="s" x="274.6" y="23.1" font-size="6.5" text-anchor="start">5</text>
<text class="s" transform="translate(7.9,225.6) rotate(-90)" font-size="10.5" textLength="85.3" lengthAdjust="spacingAndGlyphs">Number of counts</text>
</svg>
</body></html>
